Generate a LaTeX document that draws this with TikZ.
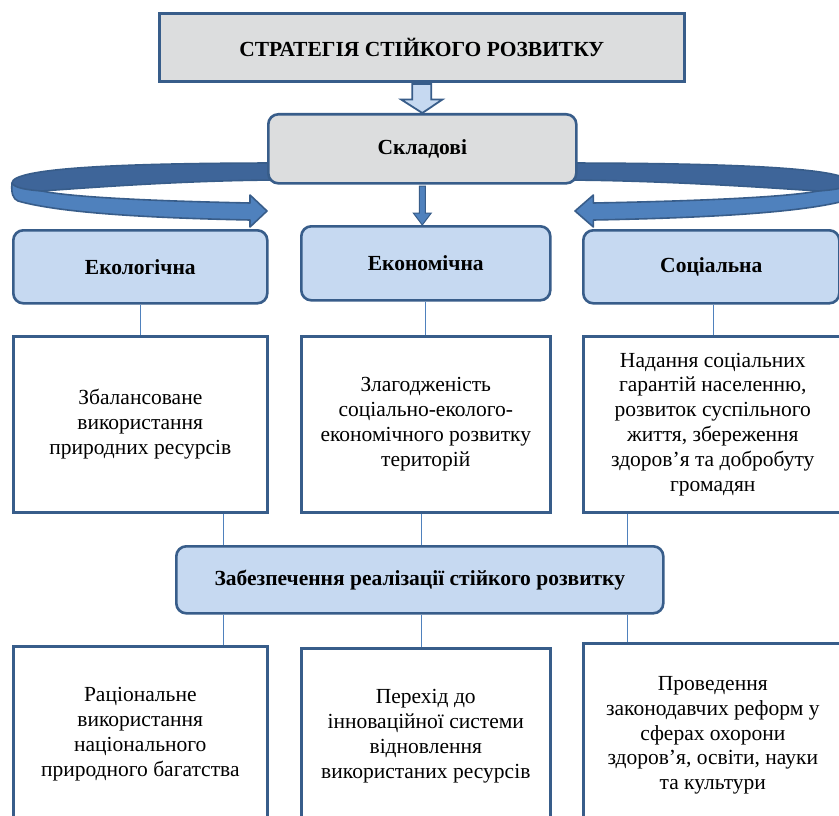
\documentclass[tikz,border=0pt]{standalone}
\usepackage{fontspec}
\setmainfont{Liberation Serif}
\usetikzlibrary{calc}
\definecolor{bdr}{HTML}{385D8A}
\definecolor{lblue}{HTML}{C6D9F1}
\definecolor{gfill}{HTML}{DCDDDE}
\definecolor{rdark}{HTML}{3E6599}
\definecolor{rlight}{HTML}{4F81BD}
\definecolor{conn}{HTML}{4F81BD}
\newcommand\myribbon{%
  \filldraw[fill=rlight, draw=bdr, line width=1.6pt, line join=round]
    (12,183) .. controls (11,193) and (13,199) .. (18,201)
    .. controls (60,213) and (150,218) .. (250,220) -- (250,227) -- (267,211)
    -- (250,195) -- (250,203) .. controls (150,201) and (70,197) .. (42,191) -- cycle;
  \filldraw[fill=rdark, draw=bdr, line width=1.6pt, line join=round]
    (285,163) .. controls (120,163) and (12,168) .. (12,183)
    .. controls (14,188) and (28,190) .. (42,191)
    .. controls (110,186) and (200,180) .. (285,180) -- cycle;
}
\begin{document}
\begin{tikzpicture}[x=1pt,y=-1pt,
  base/.style={draw=bdr, line width=2.6pt, inner sep=2pt, anchor=north west, align=center,
    font=\fontsize{21.5}{24.8}\selectfont},
  sqbox/.style={base, fill=white},
  rbox/.style={base, rounded corners=10pt, fill=lblue, font=\bfseries\fontsize{21.5}{24.8}\selectfont},
  link/.style={draw=conn, line width=0.9pt}]
\useasboundingbox (0,0) rectangle (839,816);
\fill[white] (0,0) rectangle (839,816);
\clip (0,0) rectangle (839,816);
% ribbons
\myribbon
\begin{scope}[xshift=863.4pt, xscale=-1.08]
\myribbon
\end{scope}
% nodes
\node[sqbox, fill=gfill, minimum width=525pt, minimum height=68pt,
  font=\bfseries\fontsize{21.5}{24.8}\selectfont] (top) at (158,12) {СТРАТЕГІЯ СТІЙКОГО РОЗВИТКУ};
\node[rbox, fill=gfill, minimum width=308pt, minimum height=69pt] (sk) at (267,113) {Складові};
\node[rbox, minimum width=254pt, minimum height=73pt] (eko) at (12,229) {Екологічна};
\node[rbox, minimum width=249pt, minimum height=74pt] (ekn) at (300,225) {Економічна};
\node[rbox, minimum width=256pt, minimum height=73pt] (soc) at (582,229) {Соціальна};
\node[sqbox, minimum width=254pt, minimum height=176pt] (b1) at (12,335)
  {Збалансоване\\використання\\природних ресурсів};
\node[sqbox, minimum width=249pt, minimum height=176pt] (b2) at (300,335)
  {Злагодженість\\соціально-еколого-\\економічного розвитку\\територій};
\node[sqbox, minimum width=259pt, minimum height=176pt] (b3) at (582,335)
  {Надання соціальних\\гарантій населенню,\\розвиток суспільного\\життя, збереження\\здоров’я та добробуту\\громадян};
\node[rbox, minimum width=487pt, minimum height=67pt] (zab) at (175,545)
  {Забезпечення реалізації стійкого розвитку};
\node[sqbox, minimum width=254pt, minimum height=176pt] (c1) at (12,645)
  {Раціональне\\використання\\національного\\природного багатства};
\node[sqbox, minimum width=249pt, minimum height=176pt] (c2) at (300,647)
  {Перехід до\\інноваційної системи\\відновлення\\використаних ресурсів};
\node[sqbox, minimum width=259pt, minimum height=184pt] (c3) at (582,642)
  {Проведення\\законодавчих реформ у\\сферах охорони\\здоров’я, освіти, науки\\та культури};
% hollow arrow top -> sk
\filldraw[fill=lblue, draw=bdr, line width=1.8pt, line join=miter]
  ($(top.south)+(-9.5,1.5)$) -- ($(top.south)+(-9.5,17)$) -- ($(top.south)+(-20.5,17)$)
  -- (sk.north) -- ($(top.south)+(20.5,17)$) -- ($(top.south)+(9.5,17)$)
  -- ($(top.south)+(9.5,1.5)$) -- cycle;
% small arrow sk -> ekn
\filldraw[fill=rlight, draw=bdr, line width=1pt]
  ($(sk.south)+(-3,1.5)$) -- ($(sk.south |- ekn.north)+(-3,-12)$) -- ($(sk.south |- ekn.north)+(-9,-12)$)
  -- ($(sk.south |- ekn.north)+(0,0)$) -- ($(sk.south |- ekn.north)+(9,-12)$)
  -- ($(sk.south |- ekn.north)+(3,-12)$) -- ($(sk.south)+(3,1.5)$) -- cycle;
% thin links
\draw[link] (eko.south) -- (eko.south |- b1.north);
\draw[link] (ekn.south) -- (ekn.south |- b2.north);
\coordinate (s3) at (713,0);
\draw[link] (s3 |- soc.south) -- (s3 |- b3.north);
\coordinate (p1) at (223,0);
\coordinate (p2) at (421,0);
\coordinate (p3) at (627,0);
\draw[link] (p1 |- b1.south) -- (p1 |- zab.north);
\draw[link] (p2 |- b2.south) -- (p2 |- zab.north);
\draw[link] (p3 |- b3.south) -- (p3 |- zab.north);
\draw[link] (p1 |- zab.south) -- (p1 |- c1.north);
\draw[link] (p2 |- zab.south) -- (p2 |- c2.north);
\draw[link] (p3 |- zab.south) -- (p3 |- c3.north);
\end{tikzpicture}
\end{document}
